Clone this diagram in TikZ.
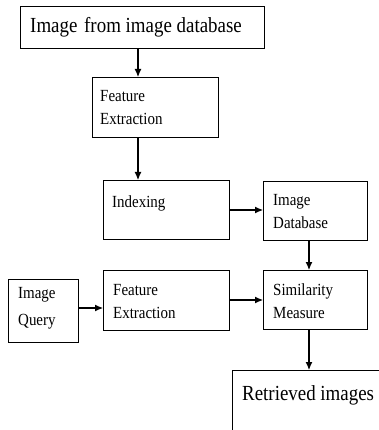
\documentclass[tikz,border=0pt]{standalone}
\usepackage{fontspec}
\setmainfont{Liberation Serif}[FakeStretch=0.88]
\usetikzlibrary{arrows.meta}
\begin{document}
\begin{tikzpicture}[x=1pt,y=-1pt,
  box/.style={draw, line width=1.2pt, anchor=north west, inner sep=0pt},
  % anchored at the baseline of the last line
  lbl/.style={anchor=base west, inner sep=0pt, align=left,
              font=\fontsize{17}{23}\selectfont},
  biglbl/.style={anchor=base west, inner sep=0pt,
              font=\fontsize{21.5}{26}\selectfont},
  arr/.style={line width=1.1pt, -{Latex[length=8pt,width=7pt]}}]
\useasboundingbox (0,0) rectangle (379,430);
\clip (0,0) rectangle (379,430);

% boxes
\node[box, minimum width=244pt, minimum height=42pt] (db)   at (20,6)   {};
\node[box, minimum width=126pt, minimum height=60pt] (fe1)  at (92,77)  {};
\node[box, minimum width=126pt, minimum height=59pt] (idx)  at (103,180) {};
\node[box, minimum width=104pt, minimum height=59pt] (imdb) at (263,181) {};
\node[box, minimum width=126pt, minimum height=60pt] (fe2)  at (103,270) {};
\node[box, minimum width=104pt, minimum height=59pt] (sim)  at (263,270) {};
\node[box, minimum width=70pt,  minimum height=63pt] (iq)   at (8,279)  {};
\node[box, minimum width=170pt, minimum height=90pt] (ret)  at (232,370) {};

% labels
\node[biglbl] (dbt)   at (30,33)  {Image\hspace{2pt} from image database};
\node[lbl]    (fe1t)  at (100,125) {Feature\\Extraction};
\node[lbl]    (idxt)  at (112,207) {Indexing};
\node[lbl]    (imdbt) at (273,228) {Image\\Database};
\node[lbl]    (fe2t)  at (113,318) {Feature\\Extraction};
\node[lbl]    (simt)  at (273,318) {Similarity\\Measure};
\node[lbl, font=\fontsize{17}{27}\selectfont] (iqt) at (18,325) {Image\\Query};
\node[biglbl] (rett)  at (242,400) {Retrieved images};

% connector guides
\coordinate (cx1) at (138,0);
\coordinate (cx2) at (309,0);
\coordinate (ry1) at (0,210);
\coordinate (ry2) at (0,308);
\coordinate (ry3) at (0,300);

% connectors
\draw[arr] (db.south -| cx1)  -- (fe1.north -| cx1);
\draw[arr] (fe1.south -| cx1) -- (idx.north -| cx1);
\draw[arr] (idx.east |- ry1)  -- (imdb.west |- ry1);
\draw[arr] (imdb.south -| cx2) -- (sim.north -| cx2);
\draw[arr] (iq.east |- ry2)   -- (fe2.west |- ry2);
\draw[arr] (fe2.east |- ry3)  -- (sim.west |- ry3);
\draw[arr] (sim.south -| cx2) -- (ret.north -| cx2);
\end{tikzpicture}
\end{document}
